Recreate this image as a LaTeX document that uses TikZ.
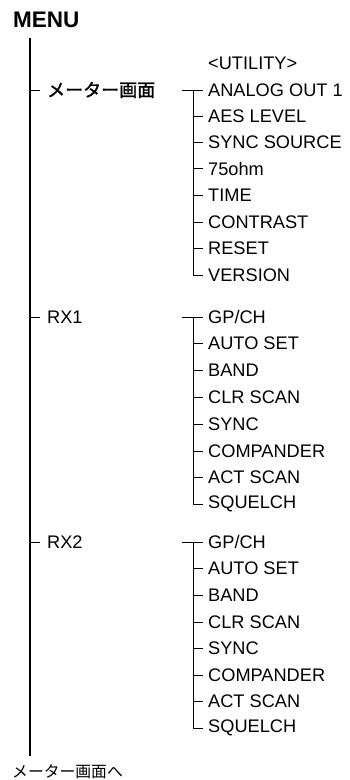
\documentclass[tikz,border=0pt]{standalone}
\usepackage{fontspec}
\setmainfont{Liberation Sans}
\newfontfamily\jpfont{Noto Sans CJK JP}
\newfontfamily\jpmed[FakeBold=1.5]{Noto Sans CJK JP}
\begin{document}
\begin{tikzpicture}[x=1pt,y=-1pt,
  mainline/.style={line width=2pt},
  subline/.style={line width=0.9pt},
  menutitle/.style={inner sep=0pt,anchor=west,font=\fontsize{22.5}{24}\selectfont\bfseries},
  lvlone/.style={inner ysep=0pt,inner xsep=7pt,anchor=west,font=\fontsize{18.2}{20}\selectfont},
  lvlonejp/.style={inner ysep=0pt,inner xsep=7pt,anchor=west,font=\jpmed\fontsize{18}{20}\selectfont},
  item/.style={inner ysep=0pt,inner xsep=5pt,anchor=west,font=\fontsize{18.2}{20}\selectfont},
  gotolabel/.style={inner sep=0pt,anchor=west,font=\jpfont\fontsize{15.8}{18}\selectfont}]
\useasboundingbox (0,0) rectangle (350,780);

% title and main line
\node[menutitle] (menu) at (13,19.5) {MENU};
\coordinate (top) at (30,38);
\coordinate (bot) at (30,756);
\draw[mainline] (top) -- (bot);
\node[gotolabel] (goto) at (12,772) {メーター画面へ};

% level one
\node[lvlonejp] (meter) at (40,90) {メーター画面};
\node[lvlone] (rxa) at (40,317) {RX1};
\node[lvlone] (rxb) at (40,542) {RX2};
\foreach \n in {meter,rxa,rxb}{\draw[subline] (\n.west -| top) -- (\n.west);}

% group 1
\node[item] (u0) at (203,63) {<UTILITY>};
\node[item] (u1) at (203,90) {ANALOG OUT 1};
\node[item] (u2) at (203,116) {AES LEVEL};
\node[item] (u3) at (203,142.5) {SYNC SOURCE};
\node[item] (u4) at (203,168.5) {75ohm};
\node[item] (u5) at (203,195) {TIME};
\node[item] (u6) at (203,222) {CONTRAST};
\node[item] (u7) at (203,248.5) {RESET};
\node[item] (u8) at (203,275) {VERSION};
\coordinate (ga) at (182,90);
\coordinate (va) at (193,90);
\draw[subline] (ga) -- (u1.west);
\draw[subline] (va) |- (u8.west);
\foreach \n in {u2,u3,u4,u5,u6,u7}{\draw[subline] (\n.west -| va) -- (\n.west);}

% group 2
\node[item] (r1) at (203,317) {GP/CH};
\node[item] (r2) at (203,343.5) {AUTO SET};
\node[item] (r3) at (203,370.5) {BAND};
\node[item] (r4) at (203,397) {CLR SCAN};
\node[item] (r5) at (203,424) {SYNC};
\node[item] (r6) at (203,451) {COMPANDER};
\node[item] (r7) at (203,477.5) {ACT SCAN};
\node[item] (r8) at (203,504) {SQUELCH};
\coordinate (gb) at (182,317);
\coordinate (vb) at (193,317);
\draw[subline] (gb) -- (r1.west);
\draw[subline] (vb) |- (r8.west);
\foreach \n in {r2,r3,r4,r5,r6,r7}{\draw[subline] (\n.west -| vb) -- (\n.west);}

% group 3
\node[item] (s1) at (203,542) {GP/CH};
\node[item] (s2) at (203,568.5) {AUTO SET};
\node[item] (s3) at (203,595) {BAND};
\node[item] (s4) at (203,622) {CLR SCAN};
\node[item] (s5) at (203,648.5) {SYNC};
\node[item] (s6) at (203,675) {COMPANDER};
\node[item] (s7) at (203,701.5) {ACT SCAN};
\node[item] (s8) at (203,728) {SQUELCH};
\coordinate (gc) at (182,542);
\coordinate (vc) at (193,542);
\draw[subline] (gc) -- (s1.west);
\draw[subline] (vc) |- (s8.west);
\foreach \n in {s2,s3,s4,s5,s6,s7}{\draw[subline] (\n.west -| vc) -- (\n.west);}
\end{tikzpicture}
\end{document}
